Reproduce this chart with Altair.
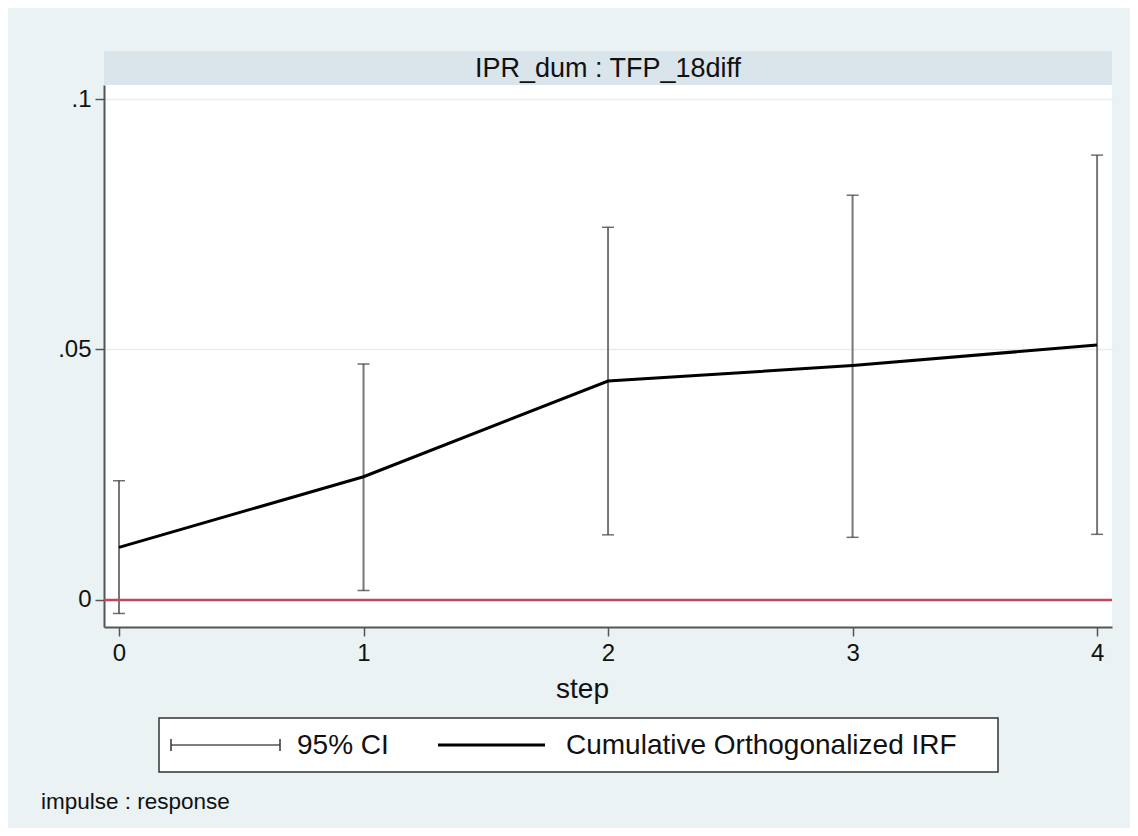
import altair as alt
import pandas as pd

# ---- data ----
steps = [0, 1, 2, 3, 4]
irf = [0.0105, 0.0246, 0.0437, 0.0468, 0.0509]
ci_lower = [-0.0027, 0.0019, 0.0130, 0.0125, 0.0131]
ci_upper = [0.0238, 0.0471, 0.0744, 0.0808, 0.0888]
x_ticks = [0, 1, 2, 3, 4]
y_ticks = [0, 0.05, 0.1]
strip_title = "IPR_dum : TFP_18diff"
x_title = "step"
legend_labels = ["95% CI", "Cumulative Orthogonalized IRF"]
note_text = "impulse : response"

df = pd.DataFrame({"step": steps, "irf": irf, "lo": ci_lower, "hi": ci_upper})

W, H = 1008, 542
BG = "#eaf2f3"
STRIP = "#d9e5ea"
FONT = "Liberation Sans"

xs = alt.Scale(domain=[-0.0613, 4.061], nice=False, zero=False)
ys = alt.Scale(domain=[-0.0054, 0.1028], nice=False, zero=False)

x_axis = alt.Axis(
    values=x_ticks, format="d", title=x_title, grid=False,
    labelFontSize=24, labelColor="#111", labelPadding=5,
    tickSize=9, tickColor="#555", tickWidth=1.5,
    domainColor="#555", domainWidth=2,
    titleFontSize=28, titleFontWeight="normal", titleColor="#111",
    titlePadding=10, titleX=478, titleAlign="center",
)
y_axis = alt.Axis(
    values=y_ticks, title=None,
    labelExpr="datum.value == 0 ? '0' : replace(format(datum.value, '.2~f'), '0.', '.')",
    labelFontSize=24, labelColor="#111", labelPadding=4, labelAngle=0,
    tickSize=9, tickColor="#555", tickWidth=1.5,
    domainColor="#555", domainWidth=2,
    grid=True, gridColor="#efe9e9", gridWidth=1.5,
)

X = lambda f: alt.X(f, scale=xs, axis=x_axis)
Y = lambda f: alt.Y(f, scale=ys, axis=y_axis)

base = alt.Chart(df)

ci_rules = base.mark_rule(color="#777777", strokeWidth=2).encode(
    x=X("step:Q"), y=Y("lo:Q"), y2="hi:Q",
)
cap_lo = base.mark_tick(orient="horizontal", size=12, thickness=1.5, color="#333").encode(
    x=X("step:Q"), y=Y("lo:Q"),
)
cap_hi = base.mark_tick(orient="horizontal", size=12, thickness=1.5, color="#333").encode(
    x=X("step:Q"), y=Y("hi:Q"),
)
zero_line = alt.Chart(pd.DataFrame({"z": [0]})).mark_rule(color="#c1475f", strokeWidth=2.5).encode(
    y=Y("z:Q"),
)
irf_line = base.mark_line(color="black", strokeWidth=3).encode(
    x=X("step:Q"), y=Y("irf:Q"),
)

# ---- strip title ----
sdf = pd.DataFrame({"t": [strip_title]})
strip_rect = alt.Chart(sdf).mark_rect(fill=STRIP).encode(
    x=alt.value(0), x2=alt.value(W), y=alt.value(-34), y2=alt.value(0)
)
strip_text = alt.Chart(sdf).mark_text(
    font=FONT, fontSize=27, color="#111", align="center", baseline="middle"
).encode(x=alt.value(W / 2), y=alt.value(-16), text="t:N")

# ---- legend ----
ldf = pd.DataFrame({"a": [legend_labels[0]], "b": [legend_labels[1]]})
leg_box = alt.Chart(ldf).mark_rect(fill="white", stroke="#333", strokeWidth=1.5).encode(
    x=alt.value(55), x2=alt.value(894), y=alt.value(633), y2=alt.value(687)
)
leg_ci = alt.Chart(ldf).mark_rule(color="#555", strokeWidth=1.5).encode(
    x=alt.value(67), x2=alt.value(176), y=alt.value(660)
)
leg_cap1 = alt.Chart(ldf).mark_rule(color="#333", strokeWidth=1.5).encode(
    x=alt.value(67), y=alt.value(654), y2=alt.value(666)
)
leg_cap2 = alt.Chart(ldf).mark_rule(color="#333", strokeWidth=1.5).encode(
    x=alt.value(176), y=alt.value(654), y2=alt.value(666)
)
leg_line = alt.Chart(ldf).mark_rule(color="black", strokeWidth=3).encode(
    x=alt.value(334), x2=alt.value(441), y=alt.value(660)
)
leg_t1 = alt.Chart(ldf).mark_text(
    font=FONT, fontSize=28, color="#111", align="left", baseline="middle"
).encode(x=alt.value(193), y=alt.value(661), text="a:N")
leg_t2 = alt.Chart(ldf).mark_text(
    font=FONT, fontSize=28, color="#111", align="left", baseline="middle"
).encode(x=alt.value(462), y=alt.value(661), text="b:N")

note = alt.Chart(pd.DataFrame({"n": [note_text]})).mark_text(
    font=FONT, fontSize=22.5, color="#111", align="left", baseline="middle"
).encode(x=alt.value(-63), y=alt.value(717), text="n:N")

chart = alt.layer(
    ci_rules, zero_line, cap_lo, cap_hi, irf_line,
    strip_rect, strip_text,
    leg_box, leg_ci, leg_cap1, leg_cap2, leg_line, leg_t1, leg_t2, note,
).properties(
    width=W, height=H,
    autosize=alt.AutoSizeParams(type="none"),
    padding={"left": 96, "top": 77, "right": 18, "bottom": 201},
    background=BG,
).configure_view(
    fill="white", stroke=None
).configure_axis(
    labelFont=FONT, titleFont=FONT
).configure_text(font=FONT)

chart.save("out.html", embed_options={"renderer": "svg", "actions": False})
